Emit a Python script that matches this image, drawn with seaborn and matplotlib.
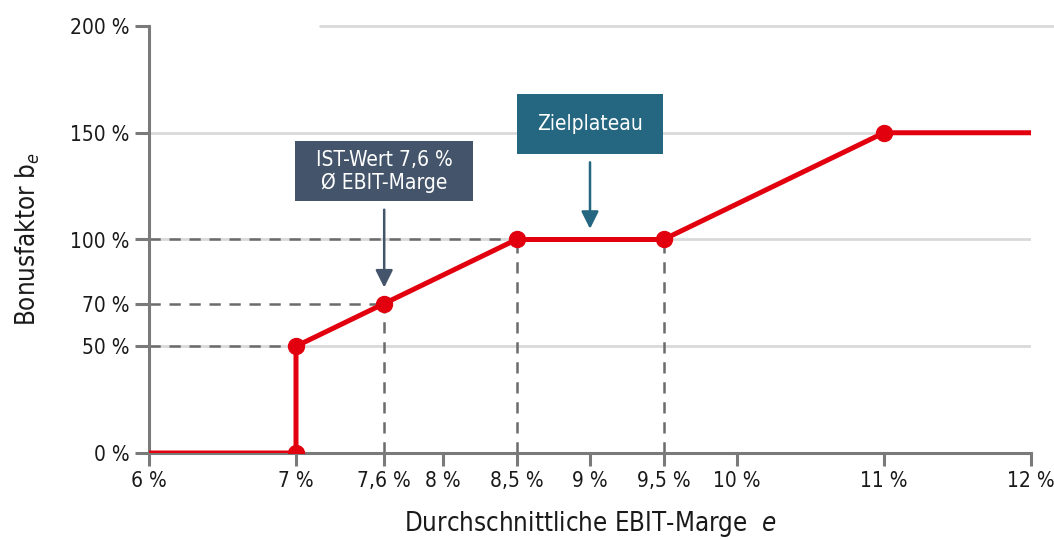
import matplotlib
matplotlib.use("Agg")
import matplotlib.pyplot as plt
import seaborn as sns
import pandas as pd

# data
margin = [6.0, 7.0, 7.0, 7.6, 8.5, 9.5, 11.0, 12.0]
bonus = [0, 0, 50, 70, 100, 100, 150, 150]
marker_idx = [1, 2, 3, 4, 5, 6]

x_ticks = [6, 7, 7.6, 8, 8.5, 9, 9.5, 10, 11, 12]
x_labels = ["6 %", "7 %", "7,6 %", "8 %", "8,5 %", "9 %", "9,5 %", "10 %", "11 %", "12 %"]
y_ticks = [0, 50, 70, 100, 150, 200]
y_labels = ["0 %", "50 %", "70 %", "100 %", "150 %", "200 %"]

ist_value = 7.6
ist_bonus = 70
plateau = (8.5, 9.5)

RED = "#e2000f"
GREY = "#7a7a7a"
DASH = "#6b6b6b"
GRID = "#d9d9d9"
SLATE = "#44546a"
TEAL = "#256680"
TEXT = "#1a1a1a"

sns.set_style("white")
plt.rcParams["font.family"] = ["Liberation Sans Narrow", "DejaVu Sans"]
plt.rcParams["font.stretch"] = "condensed"
plt.rcParams["text.color"] = TEXT
plt.rcParams["axes.labelcolor"] = TEXT
plt.rcParams["xtick.labelcolor"] = TEXT
plt.rcParams["ytick.labelcolor"] = TEXT

df = pd.DataFrame({"margin": margin, "bonus": bonus})

fig = plt.figure(figsize=(10.54, 5.4), dpi=100)
ax = fig.add_axes([149 / 1054, 87 / 540, (1031 - 149) / 1054, (453 - 26) / 540])

# light reference lines
for yv in [50, 100, 150]:
    ax.axhline(yv, color=GRID, lw=2, zorder=0)
ax.axhline(200, xmin=(320 - 149) / (1031 - 149), xmax=1.03, color=GRID, lw=2,
           zorder=0, clip_on=False)

# dashed helper lines
dash_kw = dict(color=DASH, lw=1.8, linestyles=(0, (4.5, 3.5)), zorder=1)
ax.hlines([50, ist_bonus, 100], 6, [7.0, ist_value, plateau[0]], **dash_kw)
ax.vlines([ist_value, plateau[0], plateau[1]], 0, [ist_bonus, 100, 100], **dash_kw)

# main curve
sns.lineplot(data=df, x="margin", y="bonus", sort=False, estimator=None,
             color=RED, lw=3.6, ax=ax, zorder=3)
ax.plot(df["margin"].iloc[marker_idx], df["bonus"].iloc[marker_idx], "o",
        color=RED, ms=11.5, zorder=4)

ax.set_xlim(6, 12)
ax.set_ylim(0, 200)
ax.set_xticks(x_ticks)
ax.set_xticklabels(x_labels)
ax.set_yticks(y_ticks)
ax.set_yticklabels(y_labels)

for side in ["top", "right"]:
    ax.spines[side].set_visible(False)
for side in ["left", "bottom"]:
    ax.spines[side].set_color(GREY)
    ax.spines[side].set_linewidth(2.2)
ax.spines["left"].set_zorder(2)
ax.tick_params(axis="y", direction="out", length=10, width=2.2, color=GREY,
               labelsize=15, pad=4)
ax.tick_params(axis="x", direction="out", length=9, width=2.2, color=GREY,
               labelsize=15, pad=4)
ax.tick_params(left=True, bottom=True)

ax.set_xlabel("Durchschnittliche EBIT-Marge  $e$", fontsize=18.5, labelpad=13)
ax.set_ylabel("Bonusfaktor b$_e$", fontsize=18.5, labelpad=20)

# callouts
arrow = "-|>,head_length=0.7,head_width=0.35"
ax.annotate("  IST-Wert 7,6 %  \n  Ø EBIT-Marge  ", xy=(ist_value, 77.5),
            xytext=(ist_value, 132), ha="center", va="center", color="white",
            fontsize=15, linespacing=1.15,
            bbox=dict(boxstyle="square,pad=0.42", fc=SLATE, ec="none"),
            arrowprops=dict(arrowstyle=arrow, color=SLATE, lw=1.8, shrinkA=6, shrinkB=0))
ax.annotate("Zielplateau", xy=(sum(plateau) / 2, 105), xytext=(sum(plateau) / 2, 154),
            ha="center", va="center", color="white", fontsize=15,
            bbox=dict(boxstyle="square,pad=0.95", fc=TEAL, ec="none"),
            arrowprops=dict(arrowstyle=arrow, color=TEAL, lw=1.8, shrinkA=6, shrinkB=0))

fig.savefig("out.png", dpi=100)
